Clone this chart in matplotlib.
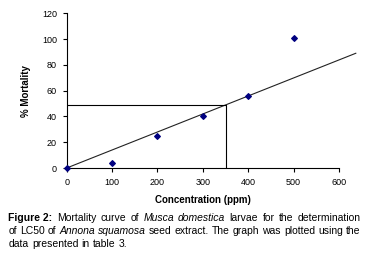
import matplotlib
matplotlib.use("Agg")
import matplotlib.pyplot as plt
import numpy as np

conc = [0, 100, 200, 300, 400, 500]
mortality = [0, 4, 25, 40, 56, 101]
trend_x = [0, 637]
trend_y = [0, 89]
lc50_x = 350
lc50_y = 49
xticks = [0, 100, 200, 300, 400, 500, 600]
yticks = [0, 20, 40, 60, 80, 100, 120]

plt.rcParams['font.family'] = ['Liberation Sans', 'DejaVu Sans']
W, H = 378, 268
fig = plt.figure(figsize=(W/100, H/100), dpi=100)
ax = fig.add_axes([66.7/W, 1-168/H, (339-66.7)/W, (168-13.3)/H])
ax.set_xlim(0, 600)
ax.set_ylim(0, 120)
ax.plot(trend_x, trend_y, color='#222222', lw=0.8, clip_on=False)
ax.plot([0, lc50_x, lc50_x], [lc50_y, lc50_y, 0], color='black', lw=0.8)
ax.scatter(conc, mortality, marker='D', s=8, color='#000080', zorder=3, clip_on=False)
for s in ['top', 'right']:
    ax.spines[s].set_visible(False)
for s in ['left', 'bottom']:
    ax.spines[s].set_linewidth(0.8)
ax.set_xticks(xticks)
ax.set_yticks(yticks)
ax.tick_params(labelsize=6.5, length=3, width=0.8, pad=4, colors='black')
ax.set_xlabel('Concentration (ppm)', fontsize=7, fontweight='bold', labelpad=6)
ax.set_ylabel('% Mortality', fontsize=7, fontweight='bold', labelpad=8)

# caption, justified
fs = 7.5
lines = [
    [("Figure 2:", 'bold'), ("Mortality", 'n'), ("curve", 'n'), ("of", 'n'), ("Musca", 'it'), ("domestica", 'it'),
     ("larvae", 'n'), ("for", 'n'), ("the", 'n'), ("determination", 'n')],
    [("of", 'n'), ("LC50", 'n'), ("of", 'n'), ("Annona", 'it'), ("squamosa", 'it'), ("seed", 'n'), ("extract.", 'n'),
     ("The", 'n'), ("graph", 'n'), ("was", 'n'), ("plotted", 'n'), ("using", 'n'), ("the", 'n')],
    [("data", 'n'), ("presented", 'n'), ("in", 'n'), ("table", 'n'), ("3.", 'n')],
]
x0, x1 = 8.5, 360.5
ys = [218, 231, 244]
fig.canvas.draw()
r = fig.canvas.get_renderer()
def mk(word, st, x, y):
    kw = dict(fontsize=fs, va='center', ha='left', color='black')
    if st == 'bold':
        kw['fontweight'] = 'bold'
    elif st == 'it':
        kw['fontstyle'] = 'italic'
    return fig.text(x/W, 1-y/H, word, **kw)

for i, (ln, y) in enumerate(zip(lines, ys)):
    ts = [mk(w, s, 0, y) for w, s in ln]
    ws = [t.get_window_extent(r).width for t in ts]
    if i < len(lines) - 1:
        gap = (x1 - x0 - sum(ws)) / (len(ws) - 1)
    else:
        gap = 3.2
    x = x0
    for t, w in zip(ts, ws):
        t.set_x(x / W)
        x += w + gap

fig.savefig('out.png', dpi=100)
